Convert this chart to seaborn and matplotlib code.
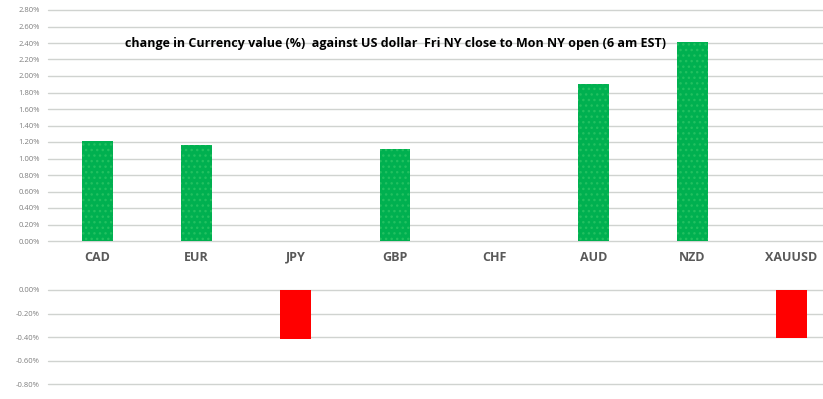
import matplotlib
matplotlib.use("Agg")
import matplotlib.pyplot as plt
import seaborn as sns
import pandas as pd

# values (% change vs USD)
currencies = ['CAD', 'EUR', 'JPY', 'GBP', 'CHF', 'AUD', 'NZD', 'XAUUSD']
changes = [1.21, 1.16, -0.415, 1.115, 0.0, 1.90, 2.41, -0.405]
top_ticks = [0.0, 0.2, 0.4, 0.6, 0.8, 1.0, 1.2, 1.4, 1.6, 1.8, 2.0, 2.2, 2.4, 2.6, 2.8]
bottom_ticks = [0.0, -0.2, -0.4, -0.6, -0.8]
title = 'change in Currency value (%)  against US dollar  Fri NY close to Mon NY open (6 am EST)'

df = pd.DataFrame({'currency': currencies, 'change': changes})
df['sign'] = ['up' if v >= 0 else 'down' for v in df['change']]
palette = {'up': '#00b050', 'down': '#ff0000'}

sns.set_theme(style="white")
plt.rcParams['font.family'] = ['Open Sans', 'DejaVu Sans']

W, H = 823, 399
fig = plt.figure(figsize=(W / 100, H / 100), dpi=100)
left = 48 / W
xmax = 7.5 - 18 / 99
ax_top = fig.add_axes([left, 1 - 241 / H, 1 - left, (241 - 10) / H])
ax_bot = fig.add_axes([left, 1 - 384.3 / H, 1 - left, (384.3 - 290) / H])

for ax, lim, ticks in [(ax_top, (0, 2.8), top_ticks), (ax_bot, (-0.8, 0), bottom_ticks)]:
    sns.barplot(data=df, x='currency', y='change', hue='sign', palette=palette,
                dodge=False, width=0.31, saturation=1, legend=False, ax=ax, zorder=3)
    ax.set_ylim(*lim)
    ax.set_xlim(-0.5, xmax)
    ax.set_yticks(ticks)
    ax.set_yticklabels([f'{t:.2f}%' for t in ticks], fontsize=5.5, color='#7f7f7f')
    ax.yaxis.grid(True, color='#d0d3d0', linewidth=1)
    for gl in ax.get_ygridlines():
        gl.set_clip_on(False)
    ax.set_axisbelow(True)
    for s in ax.spines.values():
        s.set_visible(False)
    ax.tick_params(axis='both', length=0, pad=6)
    ax.set_xlabel('')
    ax.set_ylabel('')

# dotted texture on the green bars
for p in ax_top.patches:
    if p.get_height() > 0:
        p.set_hatch('...')
        p.set_edgecolor('#22c060')
    p.set_linewidth(0)
for p in ax_bot.patches:
    p.set_linewidth(0)

ax_top.set_xticks(range(len(currencies)))
ax_top.set_xticklabels(currencies, fontsize=9, fontweight='bold', color='#595959')
ax_top.tick_params(axis='x', pad=7)
ax_bot.set_xticks([])

fig.text(125 / W, 1 - 43 / H, title, fontsize=9, fontweight='bold',
         color='black', ha='left', va='center', zorder=5)

fig.savefig('out.png', dpi=100)
